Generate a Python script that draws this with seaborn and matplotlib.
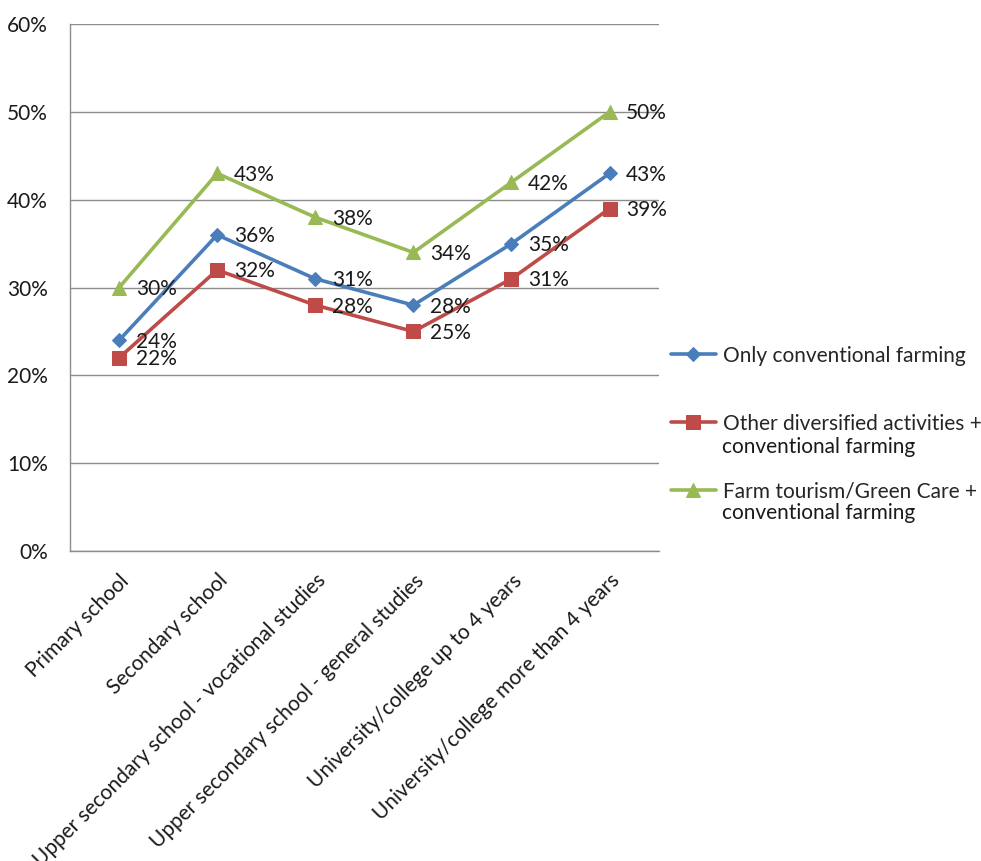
import pandas as pd
import matplotlib.pyplot as plt
import seaborn as sns

categories = ['Primary school', 'Secondary school',
              'Upper secondary school - vocational studies',
              'Upper secondary school - general studies',
              'University/college up to 4 years',
              'University/college more than 4 years']
only_conv = [24, 36, 31, 28, 35, 43]
other_div = [22, 32, 28, 25, 31, 39]
farm_tour = [30, 43, 38, 34, 42, 50]

series_first = ['Only conventional farming',
                'Other diversified activities +',
                'Farm tourism/Green Care +']
series_second = ['', 'conventional farming', 'conventional farming']
colors = ['#4A7EBB', '#BE4B48', '#98B954']
markers = ['D', 's', '^']
msizes = [9, 12, 12]

sns.set_style('white')
plt.rcParams['font.family'] = ['Lato', 'DejaVu Sans']
txt = '#1a1a1a'

fig = plt.figure(figsize=(9.81, 8.61), dpi=100)
ax = fig.add_axes([0.0714, 0.36, 0.6, 0.612])

x = list(range(len(categories)))
for name, vals, c, m, ms in zip(series_first, [only_conv, other_div, farm_tour], colors, markers, msizes):
    df = pd.DataFrame({'x': x, 'y': vals})
    sns.lineplot(data=df, x='x', y='y', ax=ax, color=c, marker=m, markersize=ms,
                 markeredgecolor=c, linewidth=2.6, label=name, sort=False)
    for xi, v in zip(x, vals):
        ax.annotate(f'{v}%', (xi, v), xytext=(12, -1), textcoords='offset points',
                    ha='left', va='center', fontsize=15, color=txt)

ax.set_xlim(-0.5, 5.5)
ax.set_ylim(0, 60)
ax.set_yticks(range(0, 61, 10))
ax.set_yticklabels([f'{t}%' for t in range(0, 61, 10)], fontsize=15, color=txt)
ax.set_xticks(x)
ax.set_xticklabels(categories, rotation=45, ha='right', rotation_mode='anchor',
                   fontsize=15, color=txt)
ax.tick_params(axis='y', length=0, pad=16)
ax.tick_params(axis='x', length=0, pad=14)
ax.grid(axis='y', color='#8C8C8C', linewidth=1)
ax.set_axisbelow(True)
for s in ['top', 'right']:
    ax.spines[s].set_visible(False)
for s in ['left', 'bottom']:
    ax.spines[s].set_color('#8C8C8C')
    ax.spines[s].set_linewidth(1)
ax.set_xlabel('')
ax.set_ylabel('')

handles, labels = ax.get_legend_handles_labels()
ax.get_legend().remove()
for h in handles:
    h.set_markersize(h.get_markersize() * 0.8)
fig.legend(handles, labels, loc='center left', bbox_to_anchor=(0.684, 0.508), frameon=False,
           fontsize=15, labelspacing=2.3, handlelength=2.15, handletextpad=0.35, borderpad=0,
           borderaxespad=0)
fig.text(722 / 981, 1 - 447 / 861, series_second[1], fontsize=15, color=txt, va='center')
fig.text(722 / 981, 1 - 513 / 861, series_second[2], fontsize=15, color=txt, va='center')

fig.savefig('out.png', dpi=100)
